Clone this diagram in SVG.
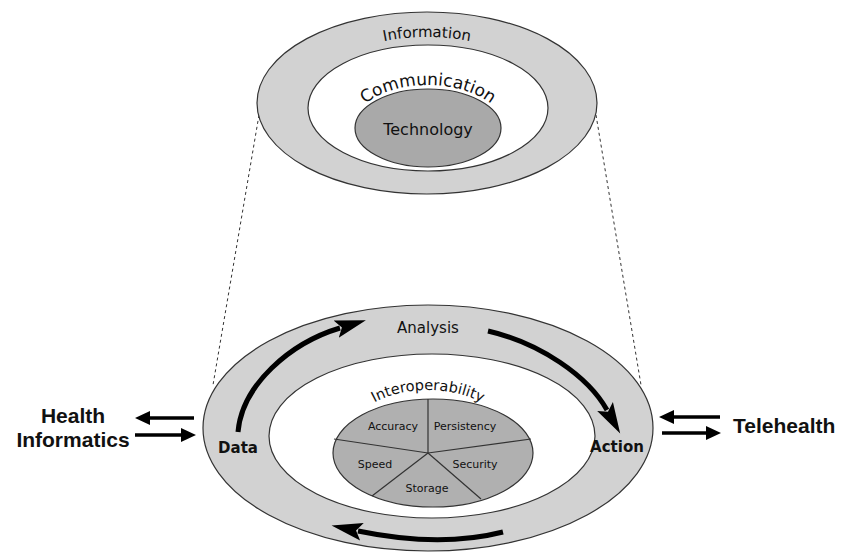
<svg xmlns="http://www.w3.org/2000/svg" xmlns:xlink="http://www.w3.org/1999/xlink" width="843" height="553" viewBox="0 0 843 553">
<style>
.ring{fill:#d2d2d2;stroke:#333;stroke-width:1.2}
.white{fill:#fff;stroke:#333;stroke-width:1.2}
.dark{fill:#a9a9a9;stroke:#333;stroke-width:1.2}
.lbl{font-family:"DejaVu Sans","Liberation Sans",sans-serif;fill:#111;text-anchor:middle}
.big{font-family:"Liberation Sans",Arial,sans-serif;font-weight:bold;fill:#111;font-size:21px}
.dash{stroke:#333;stroke-width:1;stroke-dasharray:3,3;fill:none}
.cyc{stroke:#000;stroke-width:5;fill:none}
.str{stroke:#000;stroke-width:3.5;fill:none}
</style>
<defs>
<marker id="bigHead" markerUnits="userSpaceOnUse" markerWidth="32" markerHeight="20" refX="4" refY="10" orient="auto">
<path d="M0,1 L31,10 L0,19 L6,10 z" fill="#000"/>
</marker>
<marker id="smallHead" markerUnits="userSpaceOnUse" markerWidth="16" markerHeight="14" refX="2" refY="7" orient="auto">
<path d="M0,0 L15,7 L0,14 z" fill="#000"/>
</marker>
<path id="arcInfo" d="M297,110 A130 73 0 0 1 557,110"/>
<path id="arcComm" d="M346,137 A82 52 0 0 1 510,137"/>
<path id="arcInter" d="M346,441 A82 51 0 0 1 510,441"/>
</defs>

<g id="connectors">
<line class="dash" x1="259" y1="115" x2="213" y2="385"/>
<line class="dash" x1="596" y1="115" x2="641" y2="385"/>
</g>

<g id="top-model">
<ellipse class="ring" cx="427" cy="103" rx="170" ry="91"/>
<ellipse class="white" cx="428" cy="108" rx="120" ry="63"/>
<ellipse class="dark" cx="428" cy="128" rx="73" ry="39"/>
<text class="lbl" font-size="15"><textPath xlink:href="#arcInfo" href="#arcInfo" startOffset="50%">Information</textPath></text>
<text class="lbl" font-size="17"><textPath xlink:href="#arcComm" href="#arcComm" startOffset="50%">Communication</textPath></text>
<text class="lbl" x="428" y="135" font-size="16">Technology</text>
</g>

<g id="bottom-model">
<ellipse class="ring" cx="428" cy="428" rx="225" ry="123"/>
<ellipse class="white" cx="432" cy="436" rx="163" ry="82"/>
<text class="lbl" x="428" y="333" font-size="15">Analysis</text>
<text class="lbl" x="238" y="453" font-size="15" font-weight="bold">Data</text>
<text class="lbl" x="617" y="452" font-size="15" font-weight="bold">Action</text>
<text class="lbl" font-size="14.5"><textPath xlink:href="#arcInter" href="#arcInter" startOffset="50%">Interoperability</textPath></text>
</g>

<g id="pie">
<ellipse cx="433" cy="453" rx="100" ry="54" fill="#b0b0b0" stroke="#333" stroke-width="1.2"/>
<g stroke="#333" stroke-width="1.2">
<line x1="428" y1="453" x2="428" y2="399"/>
<line x1="428" y1="453" x2="334" y2="439"/>
<line x1="428" y1="453" x2="531" y2="439"/>
<line x1="428" y1="453" x2="372" y2="496"/>
<line x1="428" y1="453" x2="481" y2="499"/>
</g>
<text class="lbl" x="393" y="430" font-size="11">Accuracy</text>
<text class="lbl" x="465" y="430" font-size="11">Persistency</text>
<text class="lbl" x="375" y="468" font-size="11">Speed</text>
<text class="lbl" x="475" y="468" font-size="11">Security</text>
<text class="lbl" x="427" y="492" font-size="11">Storage</text>
</g>

<g id="cycle-arrows">
<path class="cyc" d="M238,432 C242,385 290,343 340,328" marker-end="url(#bigHead)"/>
<path class="cyc" d="M488,331 C540,343 588,376 607,410" marker-end="url(#bigHead)"/>
<path class="cyc" d="M503,532 Q440,548 358,531" marker-end="url(#bigHead)"/>
</g>

<g id="health-informatics">
<text class="big" x="73" y="423" text-anchor="middle">Health</text>
<text class="big" x="73" y="447" text-anchor="middle">Informatics</text>
<line class="str" x1="194" y1="418" x2="148" y2="418" marker-end="url(#smallHead)"/>
<line class="str" x1="135" y1="435" x2="183" y2="435" marker-end="url(#smallHead)"/>
</g>

<g id="telehealth">
<text class="big" x="733" y="433">Telehealth</text>
<line class="str" x1="720" y1="417" x2="672" y2="417" marker-end="url(#smallHead)"/>
<line class="str" x1="662" y1="433" x2="708" y2="433" marker-end="url(#smallHead)"/>
</g>
</svg>
